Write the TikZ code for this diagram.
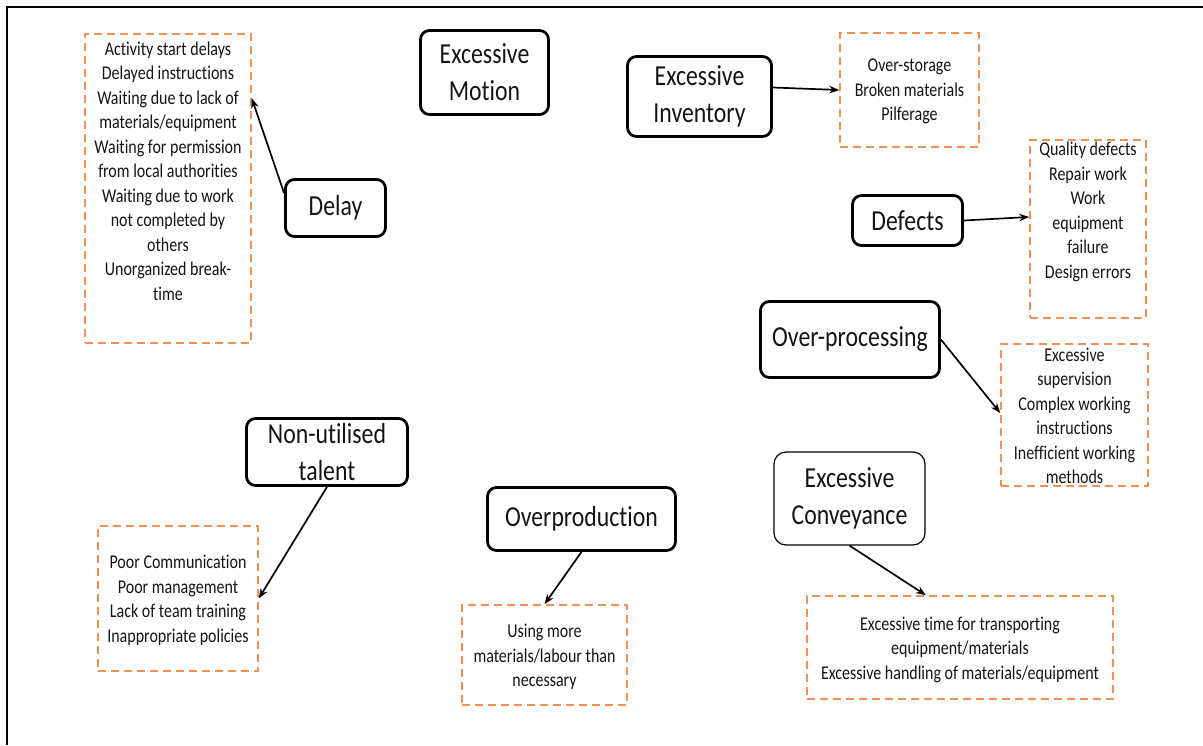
\documentclass[tikz,border=0pt]{standalone}
\usepackage{fontspec}
\setmainfont{Carlito}[FakeStretch=0.82,Ligatures=NoCommon]
\usetikzlibrary{arrows.meta}
\definecolor{dashorange}{RGB}{240,145,85}
\definecolor{inktext}{RGB}{20,20,20}
\tikzset{
  waste/.style={draw=black, line width=2.8pt, rounded corners=9pt, inner sep=0pt,
    align=center, text=inktext, font=\fontsize{29}{37}\selectfont},
  wastethin/.style={waste, line width=1.2pt, rounded corners=12pt},
  causebox/.style={draw=dashorange, line width=1.5pt, dash pattern=on 8pt off 5pt,
    inner sep=0pt, align=center, text=inktext, font=\fontsize{19.5}{24.5}\selectfont},
  causetext/.style={inner sep=0pt, align=center, text=inktext, font=\fontsize{19.5}{24.5}\selectfont},
  link/.style={draw=black, line width=1.7pt, -{Stealth[length=10pt,width=7.5pt]}}
}
\begin{document}
\begin{tikzpicture}[x=1pt,y=-1pt]
\useasboundingbox (0,0) rectangle (1203,745);
% frame along the top and left edges
\draw[line width=1.8pt] (7,745) -- (7,7) -- (1203,7);

% waste categories
\node[waste, minimum width=128, minimum height=84] (motion) at (484.5,72.5) {Excessive\\Motion};
\node[waste, minimum width=144, minimum height=80] (inventory) at (699.5,96.5) {Excessive\\Inventory};
\node[waste, minimum width=100, minimum height=57] (delay) at (335.5,208) {Delay};
\node[waste, minimum width=110, minimum height=50] (defects) at (907.5,220.5) {Defects};
\node[waste, minimum width=179, minimum height=76] (overproc) at (850,339.5) {Over-processing};
\node[waste, minimum width=161, minimum height=67] (talent) at (327,452) {Non-utilised\\talent};
\node[waste, minimum width=188, minimum height=63] (overprod) at (581.5,519) {Overproduction};
\node[wastethin, minimum width=151, minimum height=93] (conveyance) at (849.5,498.5) {Excessive\\Conveyance};

% causes of each waste
\node[causebox, minimum width=166, minimum height=309] (delaybox) at (168,188.5) {};
\node[causetext] (delaylist) at (168,171) {Activity start delays\\Delayed instructions\\Waiting due to lack of\\materials/equipment\\Waiting for permission\\from local authorities\\Waiting due to work\\not completed by\\others\\Unorganized break-\\time};

\node[causebox, minimum width=139, minimum height=114] (invbox) at (909.5,90) {};
\node[causetext] (invlist) at (909.5,91.5) {Over-storage\\Broken materials\\Pilferage};

\node[causebox, minimum width=116, minimum height=178] (defbox) at (1088,229) {};
\node[causetext] (deflist) at (1088,212) {Quality defects\\Repair work\\Work\\equipment\\failure\\Design errors};

\node[causebox, minimum width=147, minimum height=142] (procbox) at (1074.5,415) {};
\node[causetext] (proclist) at (1074.5,416) {Excessive\\supervision\\Complex working\\instructions\\Inefficient working\\methods};

\node[causebox, minimum width=160, minimum height=145] (talentbox) at (178,598.5) {};
\node[causetext] (talentlist) at (178,600.5) {Poor Communication\\Poor management\\Lack of team training\\Inappropriate policies};

\node[causebox, minimum width=165, minimum height=100] (prodbox) at (544.5,655) {};
\node[causetext] (prodlist) at (544.5,657) {Using more\\materials/labour than\\necessary};

\node[causebox, minimum width=306, minimum height=103] (convbox) at (960,647.5) {};
\node[causetext] (convlist) at (960,649.5) {Excessive time for transporting\\equipment/materials\\Excessive handling of materials/equipment};

% connectors
\draw[link] ([yshift=-15pt]delay.north west) -- ([yshift=-65pt]delaybox.north east);
\draw[link] ([yshift=9pt]inventory.east) -- (invbox.west);
\draw[link] (defects.east) -- ([yshift=12pt]defbox.west);
\draw[link] (overproc.east) -- ([yshift=2pt]procbox.west);
\draw[link] (talent.south) -- (talentbox.east);
\draw[link] (overprod.south) -- (prodbox.north);
\draw[link] (conveyance.south) -- ([xshift=-34pt]convbox.north);
\end{tikzpicture}
\end{document}
